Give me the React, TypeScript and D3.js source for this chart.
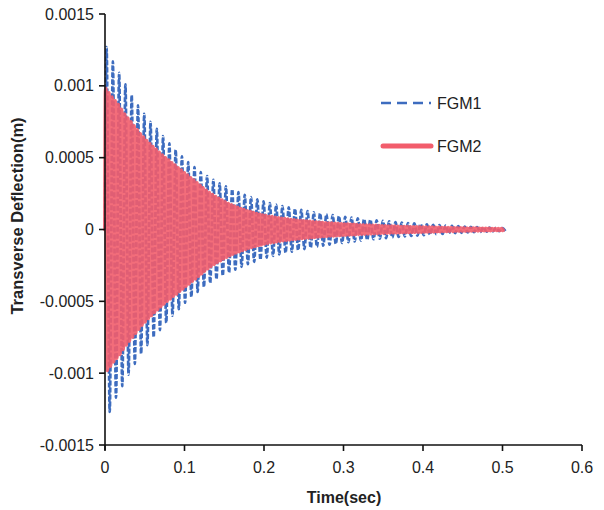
import React from "react";
import * as d3 from "d3";

// Peak amplitude of each oscillation cycle (micrometres)
const FGM1_PEAKS_UM = [
  1270, 1170, 1090, 1010, 935, 865, 805, 750, 700, 650, 600, 555, 510, 470, 435, 400,
  372, 346, 322, 300, 280, 260, 242, 225, 210, 196, 184, 173, 163, 154, 145, 136,
  128, 120, 113, 106, 100, 94, 88, 83, 78, 73, 68, 64, 60, 56, 52, 48,
  45, 42, 39, 36, 33, 30, 28, 25, 23, 21, 19, 17, 15, 13, 12, 10,
];
const FGM2_PEAKS_UM = [
  980, 950, 920, 895, 868, 835, 803, 775, 748, 720,
  692, 665, 642, 618, 597, 576, 557, 536, 517, 498,
  482, 463, 447, 428, 412, 393, 377, 358, 342, 323,
  307, 288, 272, 256, 242, 228, 216, 203, 191, 180,
  171, 161, 153, 144, 137, 129, 123, 116, 110, 105,
  100, 96, 91, 88, 84, 80, 77, 74, 71, 68,
  66, 63, 61, 59, 57, 55, 53, 51, 49, 47,
  46, 44, 43, 41, 40, 38, 37, 36, 35, 34,
  33, 32, 31, 30, 29, 28, 27, 26, 25, 24,
  23, 22, 22, 21, 20, 19, 19, 18, 18, 17,
  17, 16, 16, 15, 15, 14, 14, 13, 13, 12,
  12, 11, 11, 10, 10, 9, 9, 8, 8, 7,
  7, 7, 7, 6, 6, 5, 5,
];
const FGM1_PERIOD_SEC = 0.0079;
const FGM2_PERIOD_SEC = 0.00395;

const X_TICKS = [0, 0.1, 0.2, 0.3, 0.4, 0.5, 0.6];
const Y_TICKS = [-0.0015, -0.001, -0.0005, 0, 0.0005, 0.001, 0.0015];
const SERIES_NAMES = ["FGM1", "FGM2"];

const W = 604;
const H = 510;
const M = { left: 105, right: 582, top: 14, bottom: 445 };

function buildSeries(peaksUm: number[], period: number): [number, number][] {
  const pts: [number, number][] = [[0, 0]];
  peaksUm.forEach((a, k) => {
    pts.push([(k + 0.25) * period, a * 1e-6]);
    pts.push([(k + 0.75) * period, -a * 1e-6]);
  });
  return pts;
}

export default function App() {
  const x = d3.scaleLinear().domain([0, 0.6]).range([M.left, M.right]);
  const y = d3.scaleLinear().domain([-0.0015, 0.0015]).range([M.bottom, M.top]);
  const line = d3
    .line<[number, number]>()
    .x((d) => x(d[0]))
    .y((d) => y(d[1]))
    .curve(d3.curveMonotoneX);

  const s1 = buildSeries(FGM1_PEAKS_UM, FGM1_PERIOD_SEC);
  const s2 = buildSeries(FGM2_PEAKS_UM, FGM2_PERIOD_SEC);

  const font = "'Liberation Sans', Arial, sans-serif";
  const blue = "#3d6cbf";
  const red = "#f25d6c";

  return (
    <svg
      width={W}
      height={H}
      style={{ position: "absolute", left: 0, top: 0, background: "#fff" }}
      fontFamily={font}
    >
      <rect x={0} y={0} width={W} height={H} fill="#fff" />
      {/* data */}
      <path d={line(s1) || ""} fill="none" stroke={blue} strokeWidth={2.7} strokeDasharray="5 2" />
      <path d={line(s2) || ""} fill="none" stroke={red} strokeWidth={4} opacity={0.9} strokeLinejoin="round" strokeLinecap="round" />

      {/* axes */}
      <line x1={M.left} x2={M.left} y1={M.top} y2={M.bottom + 5} stroke="#111" strokeWidth={1.6} />
      <line x1={M.left} x2={M.right} y1={M.bottom} y2={M.bottom} stroke="#111" strokeWidth={1.6} />
      {Y_TICKS.map((t) => (
        <g key={"y" + t}>
          <line x1={M.left - 6} x2={M.left} y1={y(t)} y2={y(t)} stroke="#111" strokeWidth={1.6} />
          <text x={M.left - 11} y={y(t)} dy="0.35em" textAnchor="end" fontSize={16} fill="#222">
            {t === 0 ? "0" : String(t)}
          </text>
        </g>
      ))}
      {X_TICKS.map((t) => (
        <g key={"x" + t}>
          <line x1={x(t)} x2={x(t)} y1={M.bottom} y2={M.bottom + 6} stroke="#111" strokeWidth={1.6} />
          <text x={x(t)} y={M.bottom + 28} textAnchor="middle" fontSize={16} fill="#222">
            {String(t)}
          </text>
        </g>
      ))}

      {/* axis titles */}
      <text x={344} y={503} textAnchor="middle" fontSize={16} fontWeight="bold" fill="#222">
        Time(sec)
      </text>
      <text
        transform={`translate(23, 216) rotate(-90)`}
        textAnchor="middle"
        fontSize={16.5}
        fontWeight="bold"
        fill="#222"
      >
        Transverse Deflection(m)
      </text>

      {/* legend */}
      <line x1={381} x2={431} y1={103} y2={103} stroke={blue} strokeWidth={2.3} strokeDasharray="10 6" />
      <text x={437} y={103} dy="0.35em" fontSize={16} fill="#222">
        {SERIES_NAMES[0]}
      </text>
      <line x1={383} x2={431} y1={146} y2={146} stroke={red} strokeWidth={5} strokeLinecap="round" />
      <text x={437} y={146} dy="0.35em" fontSize={16} fill="#222">
        {SERIES_NAMES[1]}
      </text>
    </svg>
  );
}
